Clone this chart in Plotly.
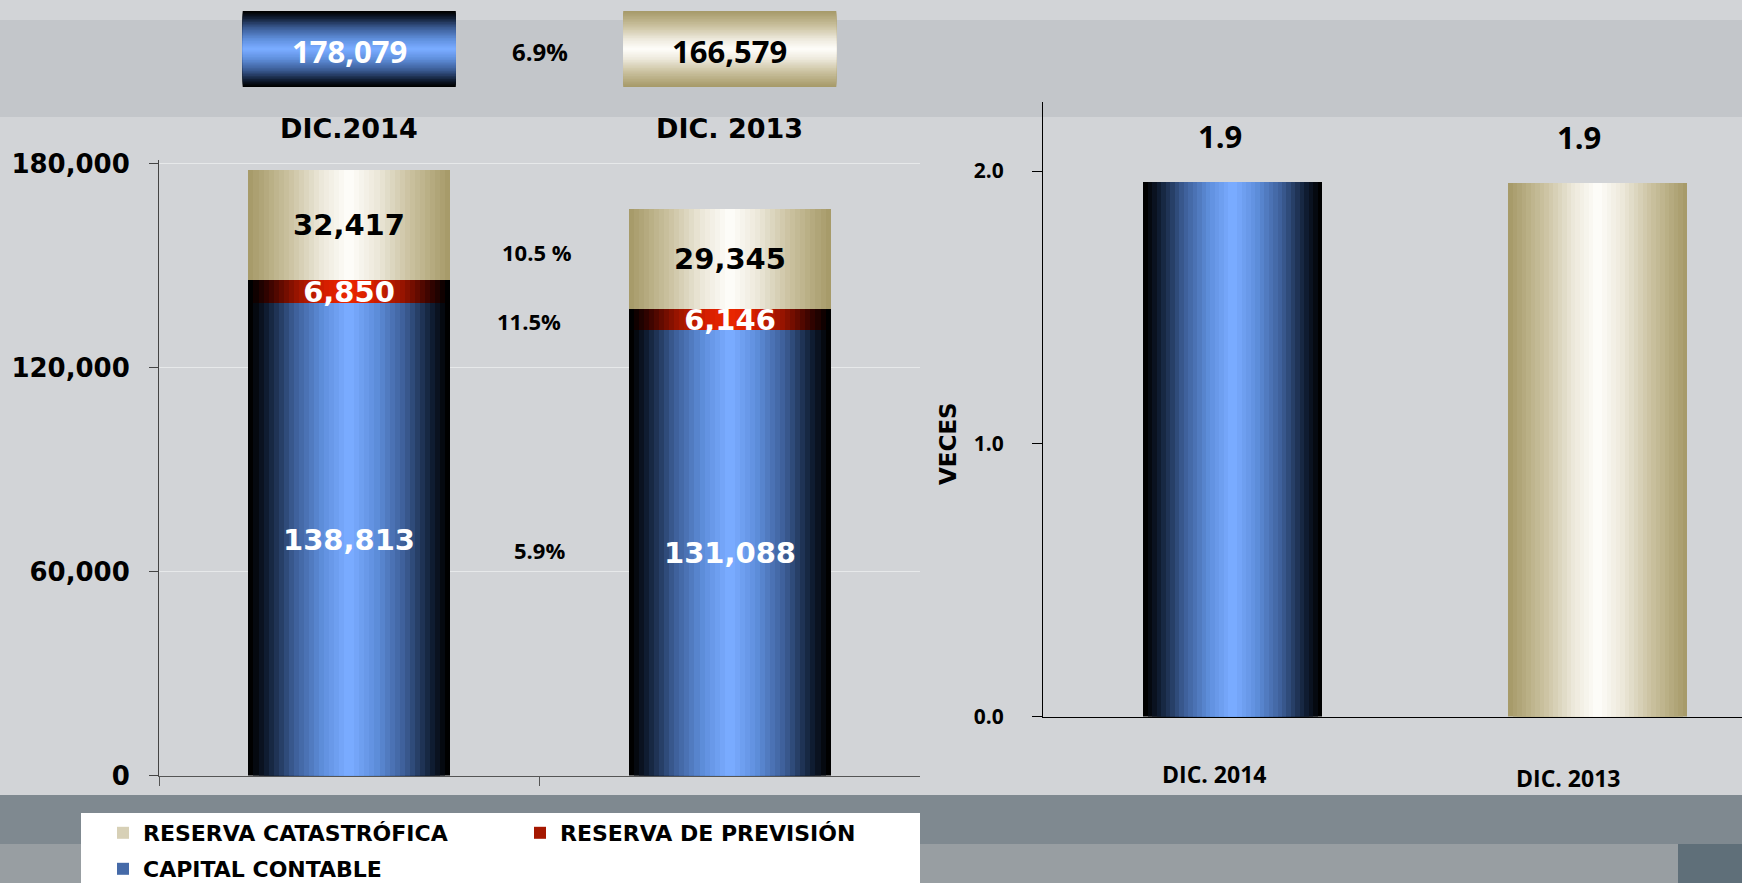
import plotly.graph_objects as go

# datos
categorias = ["DIC.2014", "DIC. 2013"]
capital_contable = [138813, 131088]
reserva_prevision = [6850, 6146]
reserva_catastrofica = [32417, 29345]
totales = [178079, 166579]
crec_total = "6.9%"
crec_capital = "5.9%"
crec_prevision = "11.5%"
crec_catastrofica = "10.5 %"

veces_cat = ["DIC. 2014", "DIC. 2013"]
veces = [1.96, 1.955]
veces_txt = ["1.9", "1.9"]

# paletas (borde -> centro)
AZUL = [(0, "#000000"), (0.15, "#0e1a2e"), (0.45, "#3c5d96"), (0.75, "#5f8fdc"), (1, "#79abff")]
ROJO = [(0, "#000000"), (0.2, "#3c0400"), (0.5, "#a01600"), (0.8, "#d81f00"), (1, "#e82600")]
ORO = [(0, "#a79b6a"), (0.4, "#cbc2a0"), (0.75, "#ede9dc"), (1, "#fdfcf8")]

VERDANA = "DejaVu Sans"
CALIBRI = "Open Sans"


def hex_rgb(h):
    h = h.lstrip("#")
    return [int(h[i:i + 2], 16) for i in (0, 2, 4)]


def mezcla(paleta, t):
    for (t0, c0), (t1, c1) in zip(paleta[:-1], paleta[1:]):
        if t <= t1:
            f = (t - t0) / (t1 - t0) if t1 > t0 else 0
            a, b = hex_rgb(c0), hex_rgb(c1)
            r = [round(a[i] + (b[i] - a[i]) * f) for i in range(3)]
            return "rgb(%d,%d,%d)" % tuple(r)
    return paleta[-1][1]


N = 20
ANCHO_IZQ = 0.53
ANCHO_DER = 0.49

fig = go.Figure()

# grafica izquierda: barras apiladas con degradado (bandas anidadas)
segmentos = [
    ("CAPITAL CONTABLE", capital_contable, AZUL, "white", "legend2", 3),
    ("RESERVA DE PREVISIÓN", reserva_prevision, ROJO, "white", "legend", 2),
    ("RESERVA CATASTRÓFICA", reserva_catastrofica, ORO, "black", "legend", 1),
]
bases = []
base = [0, 0]
for nombre, valores, paleta, ctxt, ley, rank in segmentos:
    bases.append(list(base))
    for k in range(N):
        fig.add_trace(go.Bar(
            x=categorias, y=valores, base=base, width=ANCHO_IZQ * (1 - k / N),
            marker=dict(color=mezcla(paleta, k / (N - 1)), line=dict(width=0)),
            name=nombre, showlegend=(k == N // 2), legend=ley, legendrank=rank,
            hoverinfo="skip", xaxis="x", yaxis="y"))
    base = [b + v for b, v in zip(base, valores)]

for (nombre, valores, paleta, ctxt, ley, rank), b in zip(segmentos, bases):
    fig.add_trace(go.Bar(
        x=categorias, y=valores, base=b, width=ANCHO_IZQ,
        marker=dict(color="rgba(0,0,0,0)", line=dict(width=0)),
        text=[f"{v:,}" for v in valores], textposition="inside",
        insidetextanchor="middle", constraintext="none",
        textfont=dict(family=VERDANA, size=29, color=ctxt, weight="bold"),
        showlegend=False, hoverinfo="skip", xaxis="x", yaxis="y"))

# grafica derecha
for k in range(N):
    t = k / (N - 1)
    fig.add_trace(go.Bar(
        x=veces_cat, y=veces, width=ANCHO_DER * (1 - k / N),
        marker=dict(color=[mezcla(AZUL, t), mezcla(ORO, t)], line=dict(width=0)),
        showlegend=False, hoverinfo="skip", xaxis="x2", yaxis="y2"))

W, H = 1742, 883


def px(x):
    return x / W


def py(y):
    return 1 - y / H


shapes = [
    dict(type="rect", xref="paper", yref="paper", x0=0, x1=1, y0=py(117), y1=py(20),
         fillcolor="#c3c6ca", line_width=0, layer="below"),
    dict(type="rect", xref="paper", yref="paper", x0=0, x1=1, y0=py(844), y1=py(795),
         fillcolor="#7f8990", line_width=0, layer="below"),
    dict(type="rect", xref="paper", yref="paper", x0=0, x1=1, y0=0, y1=py(844),
         fillcolor="#989ea2", line_width=0, layer="below"),
    dict(type="rect", xref="paper", yref="paper", x0=px(1678), x1=1, y0=0, y1=py(844),
         fillcolor="#5f6f79", line_width=0, layer="below"),
    dict(type="rect", xref="paper", yref="paper", x0=px(81), x1=px(920), y0=0, y1=py(813),
         fillcolor="white", line_width=0, layer="below"),
]

# cajas de totales con degradado vertical
M = 24
for i, paleta in enumerate([AZUL, ORO]):
    y_top, y_bot = py(11), py(87)
    mid, alto = (y_top + y_bot) / 2, (y_top - y_bot)
    for k in range(M):
        h = alto * (1 - k / M) / 2
        shapes.append(dict(type="rect", xref="x", yref="paper", x0=i - 0.28, x1=i + 0.28,
                           y0=mid - h, y1=mid + h, fillcolor=mezcla(paleta, k / (M - 1)),
                           line_width=0, layer="above"))

C = dict(showarrow=False, xanchor="center", yanchor="middle")
anns = []
for i, tot in enumerate(totales):
    anns.append(dict(xref="x", yref="paper", x=i, y=py(51), text=f"{tot:,}", **C,
                     font=dict(family=CALIBRI, size=31, color="white" if i == 0 else "black",
                               weight="bold")))
    anns.append(dict(xref="x", yref="paper", x=categorias[i], y=py(128), text=categorias[i], **C,
                     font=dict(family=VERDANA, size=27, color="black", weight="bold")))
anns.append(dict(xref="x", yref="paper", x=0.5, y=py(52), text=crec_total, **C,
                 font=dict(family=CALIBRI, size=24, color="black", weight="bold")))

# crecimientos entre barras
for (nombre, valores, *_), b, txt, ys, xs in zip(
        segmentos, bases, [crec_capital, crec_prevision, crec_catastrofica],
        [-4, -15, -10], [0, -11, -3]):
    ymed = sum(bb + v / 2 for bb, v in zip(b, valores)) / len(valores)
    anns.append(dict(xref="x", yref="y", x=0.5, y=ymed, yshift=ys, xshift=xs, text=txt, **C,
                     font=dict(family=CALIBRI, size=22, color="black", weight="bold")))

for i, (v, txt) in enumerate(zip(veces, veces_txt)):
    anns.append(dict(xref="x2", yref="y2", x=i, y=v, yshift=46, xshift=[-13, -19][i],
                     text=txt, **C,
                     font=dict(family=CALIBRI, size=31, color="black", weight="bold")))
    anns.append(dict(xref="x2", yref="paper", x=i, y=py([774, 778][i]),
                     xshift=[-19, -30][i], text=veces_cat[i], **C,
                     font=dict(family=CALIBRI, size=23, color="black", weight="bold")))
anns.append(dict(xref="paper", yref="paper", x=px(948), y=py(444), text="VECES",
                 textangle=-90, **C,
                 font=dict(family=VERDANA, size=23, color="black", weight="bold")))

fig.update_layout(
    width=W, height=H, margin=dict(l=0, r=0, t=0, b=0, pad=0, autoexpand=False),
    paper_bgcolor="#d2d4d7", plot_bgcolor="rgba(0,0,0,0)",
    barmode="overlay", bargap=0,
    shapes=shapes, annotations=anns,
    xaxis=dict(domain=[px(159), px(920)], range=[-0.5, 1.5], type="category",
               showticklabels=False, showgrid=False, showline=True, linecolor="#555555",
               ticks="outside", tickson="boundaries", ticklen=9, tickcolor="#555555"),
    yaxis=dict(domain=[py(775.5), py(160)], range=[0, 181000], tickvals=[0, 60000, 120000, 180000],
               tickformat=",", showline=True, linecolor="#444444", ticks="outside", ticklen=9,
               tickcolor="#444444", showgrid=True, gridcolor="rgba(236,237,239,0.8)",
               zeroline=False, ticklabelstandoff=14,
               tickfont=dict(family=VERDANA, size=26, color="black", weight="bold")),
    xaxis2=dict(domain=[px(1043), 1], range=[-0.52, 1.395], type="category", anchor="y2",
                showticklabels=False, showgrid=False, showline=True, linecolor="black",
                ticks=""),
    yaxis2=dict(domain=[py(716.6), py(102)], range=[0, 2.253], anchor="x2",
                tickvals=[0, 1, 2], tickformat=".1f", showline=True, linecolor="black",
                ticks="outside", ticklen=10, tickcolor="black", showgrid=False, zeroline=False,
                ticklabelstandoff=24,
                tickfont=dict(family=CALIBRI, size=21, color="black", weight="bold")),
    legend=dict(orientation="h", x=px(103), y=py(812), xanchor="left", yanchor="top",
                bgcolor="rgba(0,0,0,0)", entrywidth=372, traceorder="normal",
                font=dict(family=VERDANA, size=22, color="black", weight="bold")),
    legend2=dict(orientation="h", x=px(103), y=py(848), xanchor="left", yanchor="top",
                 bgcolor="rgba(0,0,0,0)",
                 font=dict(family=VERDANA, size=22, color="black", weight="bold")),
)

fig.write_html("out.html", config={"displayModeBar": False},
               post_script="document.body.style.margin='0';")
